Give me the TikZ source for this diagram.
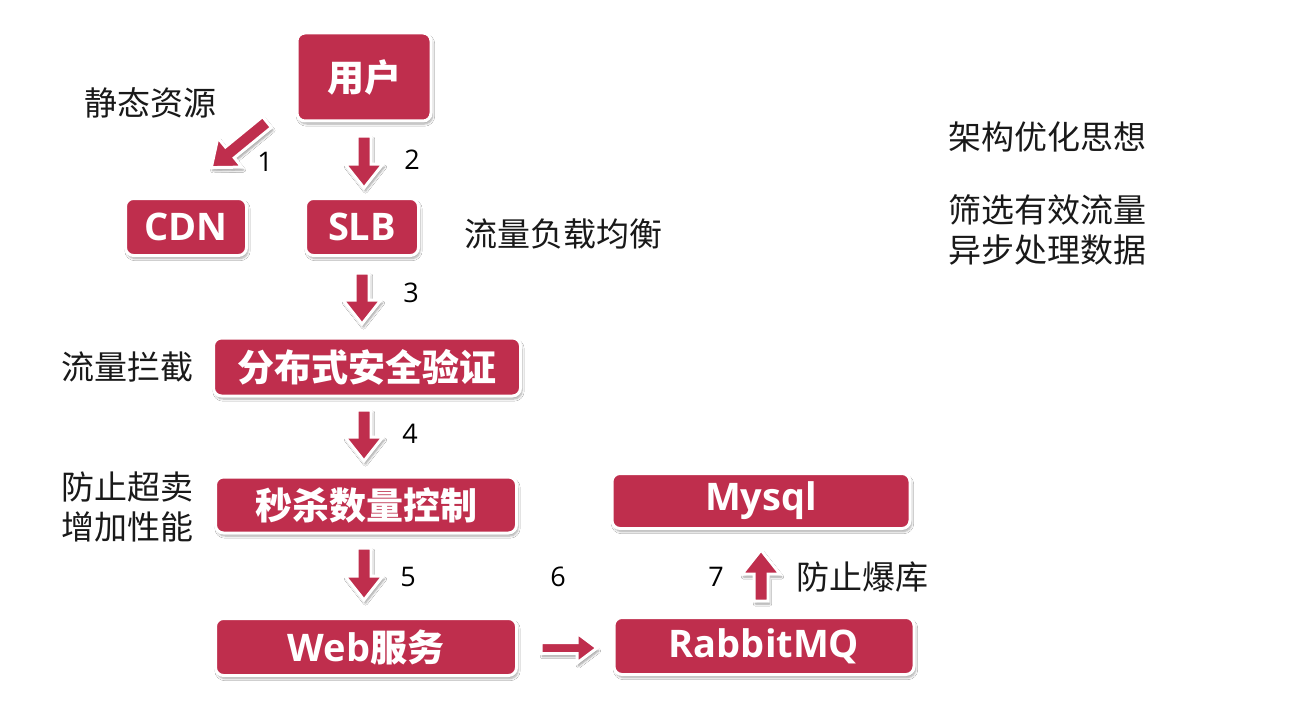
\documentclass[tikz,border=0pt]{standalone}
\usepackage{fontspec}
\setmainfont{Noto Sans CJK SC}
\newfontfamily\latinb{Open Sans}
\newfontfamily\numfont{Open Sans}
\usetikzlibrary{shadows.blur}
\definecolor{crim}{RGB}{191,46,77}
\newcommand\lat[1]{{\latinb\fontsize{38}{40}\selectfont\bfseries #1}}
\tikzset{
  box/.style={draw=white, line width=3pt, fill=crim, rounded corners=8pt,
    blur shadow={shadow xshift=1.5pt, shadow yshift=-3pt, shadow blur steps=6, shadow opacity=35},
    text=white, font=\fontsize{37}{40}\selectfont\bfseries, inner sep=0pt},
  lbl/.style={font=\fontsize{33}{40}\selectfont, text=black!90, inner sep=0pt, align=left},
  num/.style={font=\numfont\fontsize{27}{30}\selectfont, text=black, inner sep=0pt},
  arrowsty/.style={draw=white, line width=3pt, fill=crim, line join=miter,
    blur shadow={shadow xshift=1.5pt, shadow yshift=-3pt, shadow blur steps=6, shadow opacity=40}},
  pics/barrow/.style n args={4}{code={
    \draw[arrowsty] (0,#2) -- (#1-#4,#2) -- (#1-#4,#3) -- (#1,0) -- (#1-#4,-#3) -- (#1-#4,-#2) -- (0,-#2) -- cycle;
  }}
}
\begin{document}
\begin{tikzpicture}[x=1pt,y=-1pt]
\useasboundingbox[fill=white] (0,0) rectangle (1308,706);

% boxes
\node[box, minimum width=134pt, minimum height=88pt] (user) at (364,77) {用户};
\node[box, minimum width=121pt, minimum height=57pt] (cdn) at (186,227) {\lat{CDN}};
\node[box, minimum width=113pt, minimum height=57pt] (slb) at (362,227) {\lat{SLB}};
\node[box, minimum width=307pt, minimum height=58pt] (auth) at (367,367) {分布式安全验证};
\node[box, minimum width=301pt, minimum height=56pt] (seck) at (366,505) {秒杀数量控制};
\node[box, minimum width=298pt, minimum height=55pt] (mysql) at (761,501) {\lat{Mysql}};
\node[box, minimum width=301pt, minimum height=57pt] (web) at (366,647) {\lat{Web}服务};
\node[box, minimum width=300pt, minimum height=57pt] (mq) at (764,646) {\lat{RabbitMQ}};

% block arrows
\pic[rotate=219.3] (a1) at (267,122) {barrow={72}{7}{19}{24}};
\pic[rotate=-90] (a2) at (364,136) {barrow={52}{7}{19}{24}};
\pic[rotate=-90] (a3) at (362,273) {barrow={51}{7}{19}{24}};
\pic[rotate=-90] (a4) at (364,410) {barrow={51}{7}{19}{24}};
\pic[rotate=-90] (a5) at (364,548) {barrow={52}{7}{19}{24}};
\pic (a6) at (541,648) {barrow={56}{5.5}{15}{20}};
\pic[rotate=90] (a7) at (761,601) {barrow={51}{7}{19}{24}};

% numbers
\node[num] (n1) at (265,162) {1};
\node[num] (n2) at (412,160) {2};
\node[num] (n3) at (411,293) {3};
\node[num] (n4) at (410,434) {4};
\node[num] (n5) at (408,577) {5};
\node[num] (n6) at (558,577) {6};
\node[num] (n7) at (716,577) {7};

% labels
\node[lbl] (l1) at (150,103) {静态资源};
\node[lbl] (l2) at (563,234) {流量负载均衡};
\node[lbl] (l3) at (127,367) {流量拦截};
\node[lbl] (l4) at (127,507) {防止超卖\\增加性能};
\node[lbl] (l5) at (862,577) {防止爆库};
\node[lbl] (l6) at (1047,137) {架构优化思想};
\node[lbl] (l7) at (1047,230) {筛选有效流量\\异步处理数据};
\end{tikzpicture}
\end{document}
